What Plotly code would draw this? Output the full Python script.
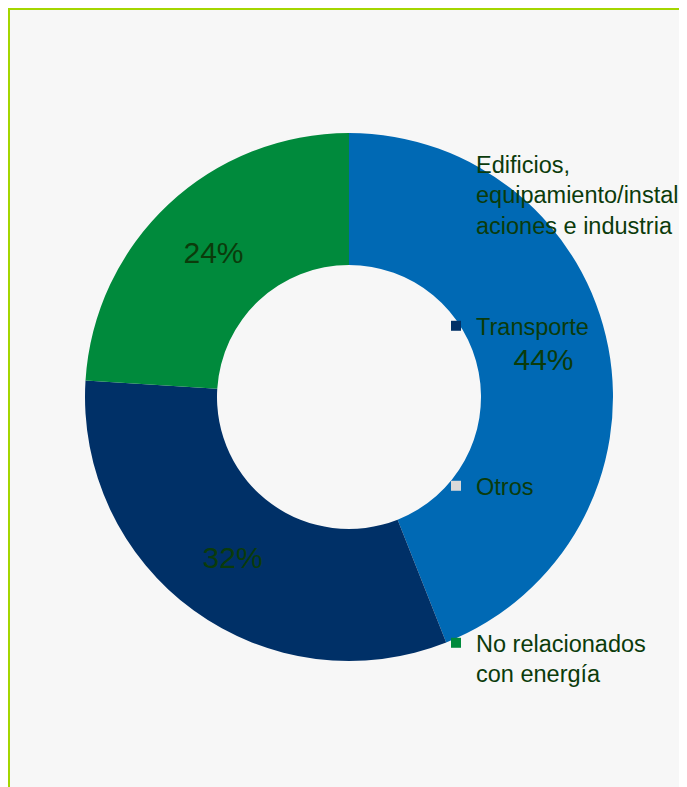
import plotly.graph_objects as go

labels = ["Edificios, equipamiento/instalaciones e industria", "Transporte", "Otros", "No relacionados con energía"]
legend_text = ["Edificios,<br>equipamiento/instal<br>aciones e industria", "Transporte", "Otros", "No relacionados<br>con energía"]
values = [44, 32, 0, 24]
colors = ["#0069b4", "#003067", "#d9d9d9", "#008a3c"]

TXT = "#0b3b0b"
FONT = "Liberation Sans, Arial, sans-serif"
W, H = 687, 787
L, T = 77, 125
PW = PH = 528
R, B = W - L - PW, H - T - PH

fig = go.Figure()
fig.add_trace(go.Pie(
    labels=labels, values=values, hole=0.5, sort=False, direction="clockwise",
    marker=dict(colors=colors, line=dict(width=0)),
    texttemplate="%{percent:.0%}", textposition="inside", insidetextorientation="horizontal",
    textfont=dict(size=30, color=TXT, family=FONT),
    showlegend=False, hoverinfo="label+percent",
))

# legend anchor positions in figure pixels
legend_pos = [(150, "top"), (318, "middle"), (478, "middle"), (629, "top")]
legend_names = ["legend", "legend2", "legend3", "legend4"]
for i, (txt, col) in enumerate(zip(legend_text, colors)):
    fig.add_trace(go.Scatter(
        x=[None], y=[None], mode="markers", name=txt,
        marker=dict(symbol="square", size=10, color=col),
        legend=legend_names[i], showlegend=True,
    ))

lay = dict(
    width=W, height=H,
    paper_bgcolor="white", plot_bgcolor="rgba(0,0,0,0)",
    margin=dict(l=L, r=R, t=T, b=B, autoexpand=False),
    xaxis=dict(visible=False), yaxis=dict(visible=False),
    font=dict(family=FONT, color=TXT),
    shapes=[dict(type="rect", xref="paper", yref="paper",
                 x0=(1 - L) / PW, x1=(720 - L) / PW,
                 y0=1 - (820 - T) / PH, y1=1 - (1 - T) / PH,
                 fillcolor="#f7f7f7", line=dict(color="#a4d600", width=2), layer="below")],
)
for i, name in enumerate(legend_names):
    py, anchor = legend_pos[i]
    yy = py - 16 if anchor == "top" else py
    lay[name] = dict(
        x=(428 - L) / PW, xanchor="left",
        y=1 - (yy - T) / PH, yanchor=anchor,
        bgcolor="rgba(0,0,0,0)", borderwidth=0, valign="top",
        font=dict(size=23.5, color=TXT, family=FONT), itemclick=False,
    )
fig.update_layout(**lay)
fig.write_html("out.html")
